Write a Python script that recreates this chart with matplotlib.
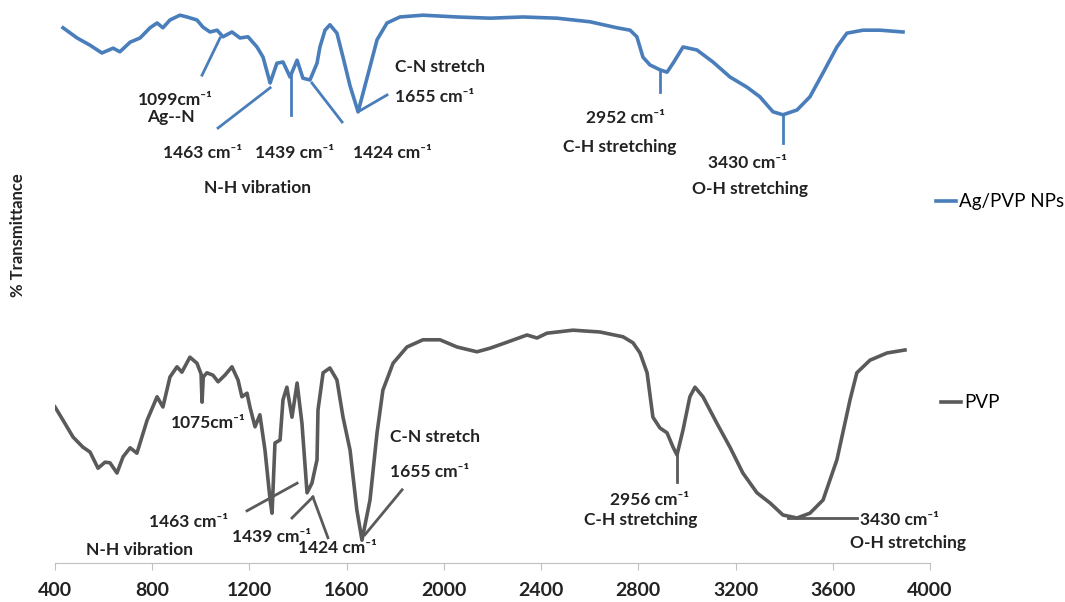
import matplotlib
matplotlib.use("Agg")
from matplotlib import pyplot as plt
import numpy as np

# FTIR spectra (wavenumber, arbitrary %T units)
ag_wn = [433, 491, 544, 593, 639, 667, 709, 750, 791, 820, 844, 873, 914, 943, 984,
         1009, 1038, 1067, 1091, 1128, 1161, 1194, 1231, 1256, 1285, 1313, 1338, 1367,
         1396, 1420, 1449, 1478, 1490, 1511, 1531, 1560, 1585, 1614, 1647, 1696, 1725,
         1766, 1819, 1914, 2054, 2190, 2325, 2465, 2601, 2712, 2766, 2794, 2819, 2848,
         2889, 2918, 2943, 2984, 3041, 3107, 3177, 3247, 3300, 3354, 3395, 3453, 3506,
         3560, 3617, 3658, 3724, 3794, 3889]
ag_t = [89.2, 87.5, 86.3, 85.0, 85.8, 85.2, 86.8, 87.5, 89.2, 90.0, 89.2, 90.5, 91.3,
        91.0, 90.5, 89.3, 88.5, 88.8, 87.7, 88.5, 87.5, 87.7, 86.0, 84.3, 80.0, 83.3,
        83.5, 81.0, 83.8, 80.8, 80.5, 83.3, 86.0, 88.8, 89.7, 88.3, 84.3, 79.5, 75.2,
        82.7, 87.2, 90.0, 91.0, 91.3, 91.0, 90.8, 91.0, 90.8, 90.2, 89.2, 88.8, 87.7,
        84.3, 83.0, 82.2, 81.8, 83.3, 86.0, 85.5, 83.5, 81.0, 79.3, 77.7, 75.2, 74.7,
        75.5, 77.7, 81.7, 86.0, 88.3, 88.8, 88.8, 88.5]

pvp_wn = [400, 433, 474, 515, 544, 577, 606, 626, 655, 680, 709, 737, 779, 820, 844,
          873, 902, 922, 955, 984, 1001, 1005, 1010, 1025, 1050, 1071, 1099, 1128, 1153,
          1169, 1190, 1202, 1223, 1243, 1264, 1285, 1293, 1305, 1326, 1338, 1354, 1375,
          1396, 1416, 1437, 1457, 1478, 1482, 1503, 1531, 1560, 1585, 1614, 1642, 1663,
          1696, 1725, 1749, 1791, 1848, 1914, 1984, 2054, 2136, 2190, 2260, 2342, 2383,
          2424, 2531, 2642, 2737, 2778, 2807, 2836, 2860, 2889, 2918, 2943, 2959, 2984,
          3012, 3033, 3066, 3123, 3177, 3230, 3288, 3342, 3395, 3453, 3506, 3560, 3617,
          3671, 3699, 3753, 3823, 3897]
pvp_t = [26.0, 23.8, 21.0, 19.3, 18.5, 15.8, 16.8, 16.7, 15.0, 17.7, 19.2, 18.3, 23.8,
         27.7, 26.0, 31.0, 32.7, 31.8, 34.3, 33.3, 31.5, 26.8, 31.0, 31.7, 31.3, 30.2,
         31.3, 32.7, 30.5, 27.7, 28.3, 26.0, 22.7, 24.7, 18.8, 10.5, 8.3, 20.0, 20.5,
         27.2, 29.3, 24.3, 30.0, 23.3, 11.7, 13.3, 17.2, 25.5, 31.7, 32.5, 30.5, 24.3,
         18.8, 8.8, 3.8, 10.5, 21.7, 28.8, 33.3, 36.0, 37.2, 37.2, 36.0, 35.2, 35.8,
         36.8, 38.0, 37.5, 38.3, 38.8, 38.5, 37.7, 36.7, 35.0, 31.7, 24.3, 22.5, 21.7,
         19.3, 18.0, 22.2, 27.7, 29.3, 27.7, 23.3, 19.3, 15.0, 11.7, 10.0, 8.0, 7.5,
         8.3, 10.5, 17.2, 27.2, 31.7, 33.8, 35.0, 35.5]

xticks = np.arange(400, 4001, 400)

BLUE = '#4a7ebb'
GREY = '#5a5a5a'
FONT = ['Lato', 'DejaVu Sans']
W, H = 1065, 602

fig = plt.figure(figsize=(W / 100, H / 100), dpi=100)
ax = fig.add_axes([55 / W, 39 / H, 875 / W, 563 / H])

ax.plot(ag_wn, ag_t, color=BLUE, lw=2.6, solid_joinstyle='round', label='Ag/PVP NPs')
ax.plot(pvp_wn, pvp_t, color=GREY, lw=2.6, solid_joinstyle='round', label='PVP')

ax.set_xlim(400, 4000)
ax.set_ylim(0, 93.83)
ax.set_xticks(xticks)
ax.set_xticklabels([str(t) for t in xticks], fontsize=14, fontweight='bold',
                   family=FONT, color='#222222')
ax.set_yticks([])
for s in ['left', 'top', 'right']:
    ax.spines[s].set_visible(False)
ax.spines['bottom'].set_color('#c0c0c0')
ax.tick_params(axis='x', direction='out', length=5, color='#c0c0c0', pad=9)

# leader lines for the band labels
def lead(x0, y0, x1, y1, c):
    ax.plot([x0, x1], [y0, y1], color=c, lw=2)

lead(1079, 87.5, 1005, 81.3, BLUE)
lead(1285, 79.2, 1071, 72.5, BLUE)
lead(1371, 81.3, 1371, 74.7, BLUE)
lead(1457, 80.0, 1581, 73.5, BLUE)
lead(1647, 75.2, 1766, 78.0, BLUE)
lead(2889, 82.2, 2889, 78.5, BLUE)
lead(3395, 74.7, 3395, 70.0, BLUE)

lead(1190, 8.7, 1396, 13.3, GREY)
lead(1375, 7.5, 1461, 11.0, GREY)
lead(1461, 11.0, 1523, 4.2, GREY)
lead(1675, 4.7, 1828, 12.2, GREY)
lead(2959, 18.0, 2959, 13.5, GREY)
lead(3416, 7.5, 3699, 7.5, GREY)

def label(x, y, s, ha='center', size=12.5):
    fig.text(x / W, 1 - y / H, s, ha=ha, va='center', fontsize=size,
             fontweight='bold', family=FONT, color='#222222')

cm = 'cm\u207b\u00b9'
label(175, 100, '1099' + cm)
label(171, 117, 'Ag--N')
label(203, 153, '1463 ' + cm)
label(295, 153, '1439 ' + cm)
label(392, 153, '1424 ' + cm)
label(257, 188, 'N-H vibration')
label(395, 67, 'C-N stretch', ha='left')
label(395, 97, '1655 ' + cm, ha='left')
label(625, 118, '2952 ' + cm)
label(620, 147, 'C-H stretching')
label(747, 163, '3430 ' + cm)
label(750, 189, 'O-H stretching')

label(208, 423, '1075' + cm)
label(189, 522, '1463 ' + cm)
label(272, 537, '1439 ' + cm)
label(337, 548, '1424 ' + cm)
label(139, 550, 'N-H vibration')
label(390, 437, 'C-N stretch', ha='left')
label(390, 472, '1655 ' + cm, ha='left')
label(650, 500, '2956 ' + cm)
label(641, 520, 'C-H stretching')
label(860, 520, '3430 ' + cm, ha='left')
label(850, 543, 'O-H stretching', ha='left')

fig.text(18 / W, 1 - 235 / H, '% Transmittance', rotation=90, ha='center', va='center',
         fontsize=12, fontweight='bold', family=FONT, color='#222222')

h1, h2 = ax.get_lines()[:2]
fig.legend([h1], ['Ag/PVP NPs'], loc='center left', bbox_to_anchor=(928 / W, 1 - 202 / H),
           frameon=False, handlelength=1.1, handletextpad=0.15, borderaxespad=0,
           prop={'family': FONT, 'size': 13.5})
fig.legend([h2], ['PVP'], loc='center left', bbox_to_anchor=(933 / W, 1 - 403 / H),
           frameon=False, handlelength=1.1, handletextpad=0.15, borderaxespad=0,
           prop={'family': FONT, 'size': 13.5})

fig.savefig('out.png', dpi=100)
